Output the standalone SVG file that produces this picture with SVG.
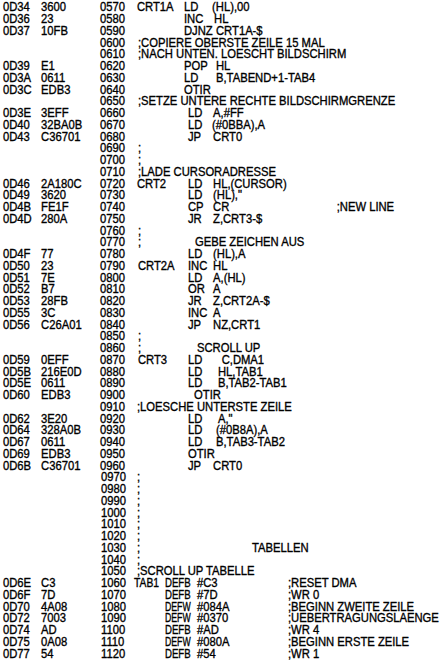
<svg xmlns="http://www.w3.org/2000/svg" width="445" height="662" viewBox="0 0 445 662">
<style>
text{font-family:"Liberation Sans",Arial,sans-serif;font-size:12.5px;fill:#000;stroke:#000;stroke-width:0.35px}
</style>
<rect width="445" height="662" fill="#fff"/>
<g id="listing" transform="scale(0.9 1)">
<text y="11.3"><tspan x="3.3">0D34</tspan><tspan x="45.6">3600</tspan><tspan x="111.1">0570</tspan><tspan x="152.2">CRT1A</tspan><tspan x="204.4">LD</tspan><tspan x="235.6">(HL),00</tspan></text>
<text y="23.1"><tspan x="3.3">0D36</tspan><tspan x="45.6">23</tspan><tspan x="111.1">0580</tspan><tspan x="204.4">INC</tspan><tspan x="237.8">HL</tspan></text>
<text y="34.8"><tspan x="3.3">0D37</tspan><tspan x="45.6">10FB</tspan><tspan x="111.1">0590</tspan><tspan x="204.4">DJNZ</tspan><tspan x="240">CRT1A-$</tspan></text>
<text y="46.6"><tspan x="111.1">0600</tspan><tspan x="153.3">;COPIERE OBERSTE ZEILE 15 MAL</tspan></text>
<text y="58.3"><tspan x="111.1">0610</tspan><tspan x="153.3">;NACH UNTEN. LOESCHT BILDSCHIRM</tspan></text>
<text y="70.1"><tspan x="3.3">0D39</tspan><tspan x="45.6">E1</tspan><tspan x="111.1">0620</tspan><tspan x="204.4">POP</tspan><tspan x="240">HL</tspan></text>
<text y="81.8"><tspan x="3.3">0D3A</tspan><tspan x="45.6">0611</tspan><tspan x="111.1">0630</tspan><tspan x="204.4">LD</tspan><tspan x="240">B,TABEND+1-TAB4</tspan></text>
<text y="93.6"><tspan x="3.3">0D3C</tspan><tspan x="45.6">EDB3</tspan><tspan x="111.1">0640</tspan><tspan x="204.4">OTIR</tspan></text>
<text y="105.3"><tspan x="111.1">0650</tspan><tspan x="153.3">;SETZE UNTERE RECHTE BILDSCHIRMGRENZE</tspan></text>
<text y="117.1"><tspan x="3.3">0D3E</tspan><tspan x="45.6">3EFF</tspan><tspan x="111.1">0660</tspan><tspan x="208.9">LD</tspan><tspan x="236.7">A,#FF</tspan></text>
<text y="128.8"><tspan x="3.3">0D40</tspan><tspan x="45.6">32BA0B</tspan><tspan x="111.1">0670</tspan><tspan x="208.9">LD</tspan><tspan x="235.6">(#0BBA),A</tspan></text>
<text y="140.6"><tspan x="3.3">0D43</tspan><tspan x="45.6">C36701</tspan><tspan x="111.1">0680</tspan><tspan x="208.9">JP</tspan><tspan x="236.7">CRT0</tspan></text>
<text y="152.3"><tspan x="111.1">0690</tspan><tspan x="153.3">;</tspan></text>
<text y="164.1"><tspan x="111.1">0700</tspan><tspan x="153.3">;</tspan></text>
<text y="175.8"><tspan x="111.1">0710</tspan><tspan x="153.3">;LADE CURSORADRESSE</tspan></text>
<text y="187.6"><tspan x="3.3">0D46</tspan><tspan x="45.6">2A180C</tspan><tspan x="111.1">0720</tspan><tspan x="152.2">CRT2</tspan><tspan x="208.9">LD</tspan><tspan x="236.7">HL,(CURSOR)</tspan></text>
<text y="199.3"><tspan x="3.3">0D49</tspan><tspan x="45.6">3620</tspan><tspan x="111.1">0730</tspan><tspan x="208.9">LD</tspan><tspan x="236.7">(HL),"</tspan></text>
<text y="211.1"><tspan x="3.3">0D4B</tspan><tspan x="45.6">FE1F</tspan><tspan x="111.1">0740</tspan><tspan x="208.9">CP</tspan><tspan x="236.7">CR</tspan><tspan x="374.1">;NEW LINE</tspan></text>
<text y="222.8"><tspan x="3.3">0D4D</tspan><tspan x="45.6">280A</tspan><tspan x="111.1">0750</tspan><tspan x="208.9">JR</tspan><tspan x="236.7">Z,CRT3-$</tspan></text>
<text y="234.6"><tspan x="111.1">0760</tspan><tspan x="153.3">;</tspan></text>
<text y="246.3"><tspan x="111.1">0770</tspan><tspan x="153.3">;</tspan><tspan x="216.7">GEBE ZEICHEN AUS</tspan></text>
<text y="258.1"><tspan x="3.3">0D4F</tspan><tspan x="45.6">77</tspan><tspan x="111.1">0780</tspan><tspan x="208.9">LD</tspan><tspan x="236.7">(HL),A</tspan></text>
<text y="269.8"><tspan x="3.3">0D50</tspan><tspan x="45.6">23</tspan><tspan x="111.1">0790</tspan><tspan x="153.3">CRT2A</tspan><tspan x="208.9">INC</tspan><tspan x="236.7">HL</tspan></text>
<text y="281.6"><tspan x="3.3">0D51</tspan><tspan x="45.6">7E</tspan><tspan x="111.1">0800</tspan><tspan x="208.9">LD</tspan><tspan x="236.7">A,(HL)</tspan></text>
<text y="293.3"><tspan x="3.3">0D52</tspan><tspan x="45.6">B7</tspan><tspan x="111.1">0810</tspan><tspan x="208.9">OR</tspan><tspan x="236.7">A</tspan></text>
<text y="305.1"><tspan x="3.3">0D53</tspan><tspan x="45.6">28FB</tspan><tspan x="111.1">0820</tspan><tspan x="208.9">JR</tspan><tspan x="236.7">Z,CRT2A-$</tspan></text>
<text y="316.8"><tspan x="3.3">0D55</tspan><tspan x="45.6">3C</tspan><tspan x="111.1">0830</tspan><tspan x="208.9">INC</tspan><tspan x="236.7">A</tspan></text>
<text y="328.6"><tspan x="3.3">0D56</tspan><tspan x="45.6">C26A01</tspan><tspan x="111.1">0840</tspan><tspan x="208.9">JP</tspan><tspan x="236.7">NZ,CRT1</tspan></text>
<text y="340.3"><tspan x="111.1">0850</tspan><tspan x="153.3">;</tspan></text>
<text y="352.1"><tspan x="111.1">0860</tspan><tspan x="153.3">;</tspan><tspan x="218.9">SCROLL UP</tspan></text>
<text y="363.8"><tspan x="3.3">0D59</tspan><tspan x="45.6">0EFF</tspan><tspan x="111.1">0870</tspan><tspan x="153.3">CRT3</tspan><tspan x="208.9">LD</tspan><tspan x="246.3">C,DMA1</tspan></text>
<text y="375.6"><tspan x="3.3">0D5B</tspan><tspan x="45.6">216E0D</tspan><tspan x="111.1">0880</tspan><tspan x="208.9">LD</tspan><tspan x="242.2">HL,TAB1</tspan></text>
<text y="387.3"><tspan x="3.3">0D5E</tspan><tspan x="45.6">0611</tspan><tspan x="111.1">0890</tspan><tspan x="208.9">LD</tspan><tspan x="242.2">B,TAB2-TAB1</tspan></text>
<text y="399.1"><tspan x="3.3">0D60</tspan><tspan x="45.6">EDB3</tspan><tspan x="111.1">0900</tspan><tspan x="215.6">OTIR</tspan></text>
<text y="410.8"><tspan x="111.1">0910</tspan><tspan x="152.2">;LOESCHE UNTERSTE ZEILE</tspan></text>
<text y="422.6"><tspan x="3.3">0D62</tspan><tspan x="45.6">3E20</tspan><tspan x="111.1">0920</tspan><tspan x="208.9">LD</tspan><tspan x="242.2">A,"</tspan></text>
<text y="434.3"><tspan x="3.3">0D64</tspan><tspan x="45.6">328A0B</tspan><tspan x="111.1">0930</tspan><tspan x="208.9">LD</tspan><tspan x="240">(#0B8A),A</tspan></text>
<text y="446.1"><tspan x="3.3">0D67</tspan><tspan x="45.6">0611</tspan><tspan x="111.1">0940</tspan><tspan x="208.9">LD</tspan><tspan x="240">B,TAB3-TAB2</tspan></text>
<text y="457.8"><tspan x="3.3">0D69</tspan><tspan x="45.6">EDB3</tspan><tspan x="111.1">0950</tspan><tspan x="208.9">OTIR</tspan></text>
<text y="469.6"><tspan x="3.3">0D6B</tspan><tspan x="45.6">C36701</tspan><tspan x="111.1">0960</tspan><tspan x="208.9">JP</tspan><tspan x="236.7">CRT0</tspan></text>
<text y="481.3"><tspan x="112.2">0970</tspan><tspan x="152.2">;</tspan></text>
<text y="493.1"><tspan x="112.2">0980</tspan><tspan x="152.2">;</tspan></text>
<text y="504.8"><tspan x="112.2">0990</tspan><tspan x="152.2">;</tspan></text>
<text y="516.6"><tspan x="112.2">1000</tspan><tspan x="152.2">;</tspan></text>
<text y="528.3"><tspan x="112.2">1010</tspan><tspan x="152.2">;</tspan></text>
<text y="540.1"><tspan x="112.2">1020</tspan><tspan x="152.2">;</tspan></text>
<text y="551.8"><tspan x="112.2">1030</tspan><tspan x="152.2">;</tspan><tspan x="280">TABELLEN</tspan></text>
<text y="563.6"><tspan x="112.2">1040</tspan><tspan x="152.2">;</tspan></text>
<text y="575.3"><tspan x="112.2">1050</tspan><tspan x="152.2">;SCROLL UP TABELLE</tspan></text>
<text y="587.1"><tspan x="3.3">0D6E</tspan><tspan x="45.6">C3</tspan><tspan x="112.2">1060</tspan><tspan x="148.9" textLength="27.8" lengthAdjust="spacingAndGlyphs">TAB1</tspan><tspan x="183.3" textLength="28.5" lengthAdjust="spacingAndGlyphs">DEFB</tspan><tspan x="218.9">#C3</tspan><tspan x="320">;RESET DMA</tspan></text>
<text y="598.8"><tspan x="3.3">0D6F</tspan><tspan x="45.6">7D</tspan><tspan x="112.2">1070</tspan><tspan x="183.3" textLength="28.5" lengthAdjust="spacingAndGlyphs">DEFB</tspan><tspan x="218.9">#7D</tspan><tspan x="320">;WR 0</tspan></text>
<text y="610.6"><tspan x="3.3">0D70</tspan><tspan x="45.6">4A08</tspan><tspan x="112.2">1080</tspan><tspan x="183.3" textLength="28.5" lengthAdjust="spacingAndGlyphs">DEFW</tspan><tspan x="218.9">#084A</tspan><tspan x="320">;BEGINN ZWEITE ZEILE</tspan></text>
<text y="622.3"><tspan x="3.3">0D72</tspan><tspan x="45.6">7003</tspan><tspan x="112.2">1090</tspan><tspan x="183.3" textLength="28.5" lengthAdjust="spacingAndGlyphs">DEFW</tspan><tspan x="218.9">#0370</tspan><tspan x="320">;UEBERTRAGUNGSLAENGE</tspan></text>
<text y="634.1"><tspan x="3.3">0D74</tspan><tspan x="45.6">AD</tspan><tspan x="112.2">1100</tspan><tspan x="183.3" textLength="28.5" lengthAdjust="spacingAndGlyphs">DEFB</tspan><tspan x="218.9">#AD</tspan><tspan x="320">;WR 4</tspan></text>
<text y="645.8"><tspan x="3.3">0D75</tspan><tspan x="45.6">0A08</tspan><tspan x="112.2">1110</tspan><tspan x="183.3" textLength="28.5" lengthAdjust="spacingAndGlyphs">DEFW</tspan><tspan x="218.9">#080A</tspan><tspan x="320">;BEGINN ERSTE ZEILE</tspan></text>
<text y="657.6"><tspan x="3.3">0D77</tspan><tspan x="45.6">54</tspan><tspan x="112.2">1120</tspan><tspan x="183.3" textLength="28.5" lengthAdjust="spacingAndGlyphs">DEFB</tspan><tspan x="218.9">#54</tspan><tspan x="320">;WR 1</tspan></text>
</g>
</svg>
